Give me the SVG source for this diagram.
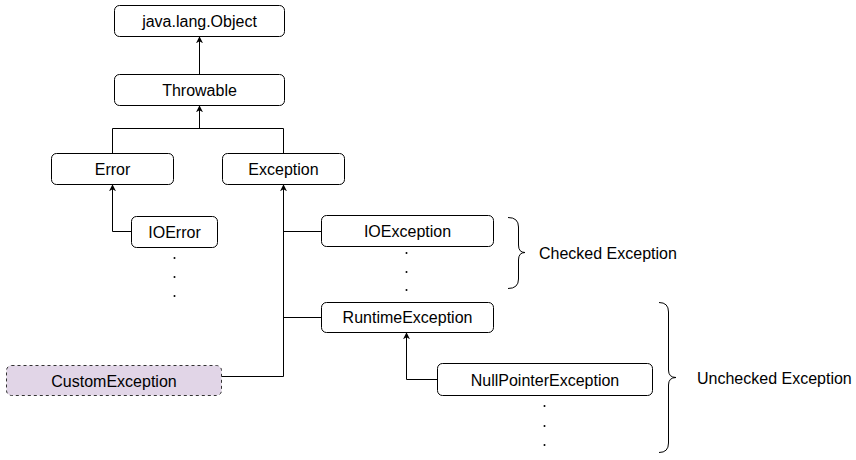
<svg xmlns="http://www.w3.org/2000/svg" width="856" height="460" viewBox="0 0 856 460">
<defs>
<style>
.box{fill:#fff;stroke:#000;stroke-width:1}
.custom{fill:#e1d5e7;stroke:#333;stroke-width:1;stroke-dasharray:3 3}
.lbl{font-family:"Liberation Sans",Arial,Helvetica,sans-serif;font-size:16px;fill:#000;text-anchor:middle;dominant-baseline:central}
.side{font-family:"Liberation Sans",Arial,Helvetica,sans-serif;font-size:16px;fill:#000;dominant-baseline:central}
.edge{fill:none;stroke:#000;stroke-width:1}
.dot{fill:#000}
.brace{fill:none;stroke:#000;stroke-width:1}
</style>
<marker id="arr" viewBox="0 0 10 10" refX="9" refY="5" markerWidth="7" markerHeight="7" markerUnits="userSpaceOnUse" orient="auto">
<path d="M0,0 L10,5 L0,10 L3,5 Z" fill="#000"/>
</marker>
</defs>
<g id="connectors">
<path class="edge" d="M199.5,74 L199.5,37" marker-end="url(#arr)"/>
<path class="edge" d="M112.5,153 L112.5,128.5 L283.5,128.5 L283.5,153"/>
<path class="edge" d="M199.5,128.5 L199.5,106" marker-end="url(#arr)"/>
<path class="edge" d="M131,231.5 L112.5,231.5 L112.5,185" marker-end="url(#arr)"/>
<path class="edge" d="M222,376.5 L283.5,376.5 L283.5,185" marker-end="url(#arr)"/>
<path class="edge" d="M283.5,231.5 L321,231.5"/>
<path class="edge" d="M283.5,317.5 L321,317.5"/>
<path class="edge" d="M437,379.5 L406.5,379.5 L406.5,333" marker-end="url(#arr)"/>
</g>
<g id="node-object">
<rect class="box" x="114.5" y="5.5" width="170" height="31" rx="5"/>
<text class="lbl" x="199.5" y="21">java.lang.Object</text>
</g>
<g id="node-throwable">
<rect class="box" x="114.5" y="74.5" width="170" height="31" rx="5"/>
<text class="lbl" x="199.5" y="90">Throwable</text>
</g>
<g id="node-error">
<rect class="box" x="51.5" y="153.5" width="122" height="31" rx="5"/>
<text class="lbl" x="112.5" y="169">Error</text>
</g>
<g id="node-exception">
<rect class="box" x="222.5" y="153.5" width="122" height="31" rx="5"/>
<text class="lbl" x="283.5" y="169">Exception</text>
</g>
<g id="node-ioerror">
<rect class="box" x="131.5" y="216.5" width="86" height="31" rx="5"/>
<text class="lbl" x="174.5" y="232">IOError</text>
<circle class="dot" cx="174.5" cy="258" r="1"/>
<circle class="dot" cx="174.5" cy="277" r="1"/>
<circle class="dot" cx="174.5" cy="296" r="1"/>
</g>
<g id="node-ioexception">
<rect class="box" x="321.5" y="215.5" width="172" height="31" rx="5"/>
<text class="lbl" x="407.5" y="231">IOException</text>
<circle class="dot" cx="406.5" cy="253" r="1"/>
<circle class="dot" cx="406.5" cy="272" r="1"/>
<circle class="dot" cx="406.5" cy="290" r="1"/>
</g>
<g id="node-runtimeexception">
<rect class="box" x="321.5" y="302.5" width="172" height="30" rx="5"/>
<text class="lbl" x="407.5" y="317.5">RuntimeException</text>
</g>
<g id="node-nullpointerexception">
<rect class="box" x="437.5" y="363.5" width="215" height="32" rx="5"/>
<text class="lbl" x="545" y="380">NullPointerException</text>
<circle class="dot" cx="544.5" cy="406" r="1"/>
<circle class="dot" cx="544.5" cy="426" r="1"/>
<circle class="dot" cx="544.5" cy="445" r="1"/>
</g>
<g id="node-customexception">
<rect class="custom" x="6.5" y="365.5" width="215" height="30" rx="5"/>
<text class="lbl" x="114" y="381">CustomException</text>
</g>
<g id="checked">
<path class="brace" d="M508,217.5 Q518.5,217.5 518.5,227 L518.5,245 Q518.5,252.5 525,252.5 Q518.5,252.5 518.5,260 L518.5,279 Q518.5,288.5 508,288.5"/>
<text class="side" x="539" y="253">Checked Exception</text>
</g>
<g id="unchecked">
<path class="brace" d="M659,302.5 Q668.5,302.5 668.5,312 L668.5,370 Q668.5,377.5 676,377.5 Q668.5,377.5 668.5,385 L668.5,443 Q668.5,452.5 659,452.5"/>
<text class="side" x="697" y="378">Unchecked Exception</text>
</g>
</svg>
